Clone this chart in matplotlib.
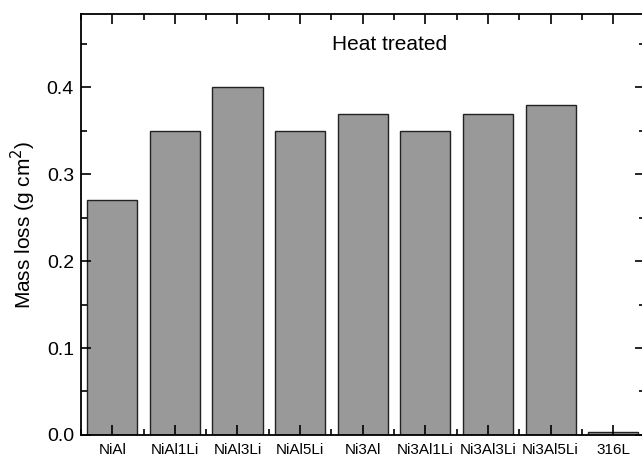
import numpy as np
import matplotlib.pyplot as plt
from matplotlib.ticker import MultipleLocator

plt.rcParams['font.family'] = ['Liberation Sans', 'DejaVu Sans']

samples = ['NiAl', 'NiAl1Li', 'NiAl3Li', 'NiAl5Li', 'Ni3Al', 'Ni3Al1Li',
           'Ni3Al3Li', 'Ni3Al5Li', '316L']
mass_loss = [0.27, 0.35, 0.40, 0.35, 0.37, 0.35, 0.37, 0.38, 0.003]

fig = plt.figure(figsize=(6.42, 4.54), dpi=100)
ax = fig.add_axes([0.126, 0.042, 0.878, 0.928])

x = np.arange(len(samples))
ax.bar(x, mass_loss, width=0.8, color='#999999', edgecolor='#222222', linewidth=1.0)

ax.set_xlim(-0.5, len(samples) - 0.5)
ax.set_ylim(0, 0.485)
ax.set_xticks(x)
ax.set_xticklabels(samples)
ax.xaxis.set_minor_locator(MultipleLocator(0.5))
ax.yaxis.set_major_locator(MultipleLocator(0.1))
ax.yaxis.set_minor_locator(MultipleLocator(0.05))
ax.yaxis.set_major_formatter(plt.FormatStrFormatter('%.1f'))

ax.tick_params(which='both', direction='in', top=True, right=True, width=1.2)
ax.tick_params(which='major', length=7)
ax.tick_params(axis='y', which='major', labelsize=14, pad=5)
ax.tick_params(axis='x', which='major', labelsize=11, pad=6)
ax.tick_params(which='minor', length=4)
for s in ax.spines.values():
    s.set_linewidth(1.3)

ax.set_ylabel('Mass loss (g cm$^2$)', fontsize=15, labelpad=6)
ax.text(0.548, 0.926, 'Heat treated', transform=ax.transAxes, fontsize=15,
        ha='center', va='center')

fig.savefig('out.png', dpi=100)
